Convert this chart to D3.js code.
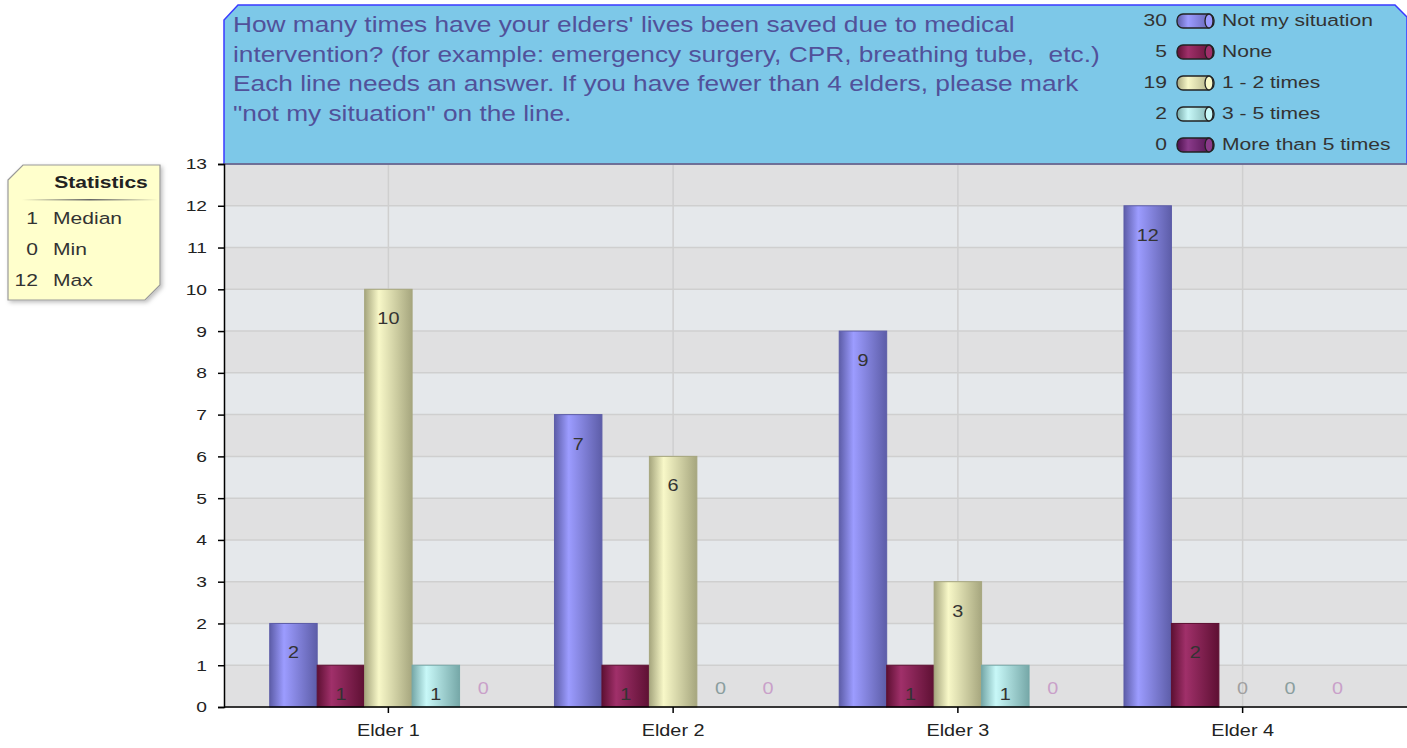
<!DOCTYPE html>
<html>
<head>
<meta charset="utf-8">
<script src="https://cdn.jsdelivr.net/npm/d3@7"></script>
<style>
  body { margin: 0; background: #fff; }
  svg text { font-family: "Liberation Sans", Arial, sans-serif; }
</style>
</head>
<body>
<svg id="chart" width="1407" height="748"></svg>
<script>
// chart data
var categories = ["Elder 1", "Elder 2", "Elder 3", "Elder 4"];
var seriesNames = ["Not my situation", "None", "1 - 2 times", "3 - 5 times", "More than 5 times"];
var seriesTotals = [30, 5, 19, 2, 0];
var notMySituation = [2, 7, 9, 12];
var none = [1, 1, 1, 2];
var oneToTwo = [10, 6, 3, 0];
var threeToFive = [1, 0, 1, 0];
var moreThanFive = [0, 0, 0, 0];
var yTicks = [0, 1, 2, 3, 4, 5, 6, 7, 8, 9, 10, 11, 12, 13];
var statLabels = ["Median", "Min", "Max"];
var statValues = [1, 0, 12];
var titleLines = [
    "How many times have your elders' lives been saved due to medical",
    "intervention? (for example: emergency surgery, CPR, breathing tube,  etc.)",
    "Each line needs an answer. If you have fewer than 4 elders, please mark",
    "\"not my situation\" on the line."
];

var seriesValues = [notMySituation, none, oneToTwo, threeToFive, moreThanFive];

// colours per series: [dark, light, zero-label colour]
var colors = [
    ["#5d5da8", "#9c9cff", "#555"],
    ["#5e1033", "#a0306a", "#555"],
    ["#a6a67e", "#f8f8c8", "#a0a0a0"],
    ["#76a8a8", "#c8f8f8", "#8a9e9e"],
    ["#4a0f4a", "#8a3a8a", "#c9a0c9"]
];

var PLOT_LEFT = 224;
var PLOT_RIGHT = 1407;
var PLOT_TOP = 164;
var PLOT_BOTTOM = 707;
var SX = 1.24; // the text in the original is drawn wide

// put a text at x,y and widen it
function place(sel, x, y) {
    return sel.attr("transform", function(d, i) {
        var px = typeof x == "function" ? x(d, i) : x;
        var py = typeof y == "function" ? y(d, i) : y;
        return "translate(" + px + "," + py + ") scale(" + SX + ",1)";
    });
}

var svg = d3.select("#chart");
var defs = svg.append("defs");

colors.forEach(function(c, i) {
    var g = defs.append("linearGradient").attr("id", "bar" + i)
        .attr("x1", "0%").attr("x2", "100%").attr("y1", "0%").attr("y2", "0%");
    g.append("stop").attr("offset", "0%").attr("stop-color", c[0]);
    g.append("stop").attr("offset", "30%").attr("stop-color", c[1]);
    g.append("stop").attr("offset", "100%").attr("stop-color", c[0]);
});

var sep = defs.append("linearGradient").attr("id", "sep");
sep.append("stop").attr("offset", "0%").attr("stop-color", "#ffffcc");
sep.append("stop").attr("offset", "50%").attr("stop-color", "#666");
sep.append("stop").attr("offset", "100%").attr("stop-color", "#ffffcc");

var shadow = defs.append("filter").attr("id", "shadow")
    .attr("x", "-10%").attr("y", "-10%").attr("width", "130%").attr("height", "130%");
shadow.append("feDropShadow").attr("dx", 2).attr("dy", 2).attr("stdDeviation", 2)
    .attr("flood-color", "#000").attr("flood-opacity", 0.25);

var y = d3.scaleLinear().domain([0, 13]).range([PLOT_BOTTOM, PLOT_TOP]);
var x0 = d3.scaleBand().domain(categories)
    .range([PLOT_LEFT + 22, PLOT_RIGHT - 22]).paddingInner(0).paddingOuter(0);
var x1 = d3.scaleBand().domain(d3.range(seriesNames.length))
    .range([0, x0.bandwidth()]).paddingInner(0).paddingOuter(0.5);

// plot background bands
svg.append("g").selectAll("rect")
    .data(yTicks.slice(0, -1))
    .enter().append("rect")
    .attr("x", PLOT_LEFT)
    .attr("width", PLOT_RIGHT - PLOT_LEFT)
    .attr("y", function(d) { return y(d + 1); })
    .attr("height", function(d) { return y(d) - y(d + 1); })
    .attr("fill", function(d) { return d % 2 == 0 ? "#e0e0e1" : "#e5e8eb"; });

// grid lines
svg.append("g").selectAll("line")
    .data(yTicks)
    .enter().append("line")
    .attr("x1", PLOT_LEFT).attr("x2", PLOT_RIGHT)
    .attr("y1", function(d) { return y(d); })
    .attr("y2", function(d) { return y(d); })
    .attr("stroke", "#cfcfcf").attr("stroke-width", 1.5);

svg.append("g").selectAll("line")
    .data(categories)
    .enter().append("line")
    .attr("x1", function(d) { return x0(d) + x0.bandwidth() / 2; })
    .attr("x2", function(d) { return x0(d) + x0.bandwidth() / 2; })
    .attr("y1", PLOT_TOP).attr("y2", PLOT_BOTTOM)
    .attr("stroke", "#cfcfcf").attr("stroke-width", 1.5);

// title box
var titlePath = d3.path();
titlePath.moveTo(PLOT_LEFT, PLOT_TOP);
titlePath.lineTo(PLOT_LEFT, 20);
titlePath.lineTo(PLOT_LEFT + 14, 5);
titlePath.lineTo(PLOT_RIGHT - 12, 5);
titlePath.lineTo(PLOT_RIGHT, 17);
titlePath.lineTo(PLOT_RIGHT, PLOT_TOP);
titlePath.closePath();
svg.append("path").attr("d", titlePath.toString())
    .attr("fill", "#7dc8e8").attr("stroke", "#3a3aff").attr("stroke-width", 1.5);
svg.append("line").attr("x1", PLOT_LEFT).attr("x2", PLOT_RIGHT)
    .attr("y1", PLOT_TOP).attr("y2", PLOT_TOP)
    .attr("stroke", "#777").attr("stroke-width", 1.5);

place(svg.append("g").selectAll("text")
    .data(titleLines)
    .enter().append("text"), 233, function(d, i) { return 32 + i * 29.5; })
    .attr("font-size", 21.2)
    .attr("fill", "#51519a")
    .style("white-space", "pre")
    .text(function(d) { return d; });

// legend
var legend = svg.append("g").selectAll("g")
    .data(seriesNames)
    .enter().append("g")
    .attr("transform", function(d, i) { return "translate(0," + (20 + i * 31) + ")"; });
place(legend.append("text"), 1167, 6)
    .attr("text-anchor", "end")
    .attr("font-size", 17).attr("fill", "#333")
    .text(function(d, i) { return seriesTotals[i]; });
legend.append("rect")
    .attr("x", 1177).attr("y", -6).attr("width", 37).attr("height", 14).attr("rx", 6)
    .attr("fill", function(d, i) { return "url(#bar" + i + ")"; })
    .attr("stroke", "#222").attr("stroke-width", 1.3);
legend.append("ellipse")
    .attr("cx", 1209).attr("cy", 1).attr("rx", 4).attr("ry", 7)
    .attr("fill", function(d, i) { return colors[i][1]; })
    .attr("stroke", "#222").attr("stroke-width", 1.3);
place(legend.append("text"), 1222, 6)
    .attr("font-size", 17).attr("fill", "#333")
    .text(function(d) { return d; });

// bars
var groups = svg.append("g").selectAll("g")
    .data(categories)
    .enter().append("g")
    .attr("transform", function(d) { return "translate(" + x0(d) + ",0)"; });

groups.selectAll("rect")
    .data(function(d, ci) {
        return seriesValues.map(function(s, si) { return { s: si, v: s[ci] }; });
    })
    .enter().append("rect")
    .filter(function(d) { return d.v > 0; })
    .attr("x", function(d) { return x1(d.s); })
    .attr("width", x1.bandwidth())
    .attr("y", function(d) { return y(d.v); })
    .attr("height", function(d) { return y(0) - y(d.v); })
    .attr("fill", function(d) { return "url(#bar" + d.s + ")"; })
    .attr("stroke", function(d) { return colors[d.s][0]; })
    .attr("stroke-width", 1);

place(groups.selectAll("text")
    .data(function(d, ci) {
        return seriesValues.map(function(s, si) { return { s: si, v: s[ci] }; });
    })
    .enter().append("text"),
    function(d) { return x1(d.s) + x1.bandwidth() / 2; },
    function(d) { return d.v > 0 ? y(d.v) + 35 : y(0) - 13; })
    .attr("text-anchor", "middle")
    .attr("font-size", 16)
    .attr("fill", function(d) { return d.v > 0 ? "#333" : colors[d.s][2]; })
    .text(function(d) { return d.v; });

// axes
var yAxis = svg.append("g")
    .attr("transform", "translate(" + PLOT_LEFT + ",0)")
    .call(d3.axisLeft(y).tickValues(yTicks).tickSize(6).tickPadding(0));
var xAxis = svg.append("g")
    .attr("transform", "translate(0," + PLOT_BOTTOM + ")")
    .call(d3.axisBottom(x0).tickSize(6).tickPadding(12).tickSizeOuter(0));
[yAxis, xAxis].forEach(function(a) {
    a.select(".domain").attr("stroke", "#000").attr("stroke-width", 1.5);
    a.selectAll(".tick line").attr("stroke", "#000").attr("stroke-width", 1.5);
    a.selectAll("text").attr("fill", "#222")
        .attr("font-family", "Liberation Sans, Arial, sans-serif");
});
yAxis.selectAll("text").attr("font-size", 15.5)
    .attr("x", -17 / SX).attr("transform", "scale(" + SX + ",1)");
xAxis.selectAll("text").attr("font-size", 16)
    .attr("transform", "scale(" + SX + ",1)");
xAxis.select(".domain").attr("d", "M" + PLOT_LEFT + ",0H" + PLOT_RIGHT);

// statistics box
var statPath = d3.path();
statPath.moveTo(8, 180);
statPath.lineTo(23, 165);
statPath.lineTo(160, 165);
statPath.lineTo(160, 285);
statPath.lineTo(145, 300);
statPath.lineTo(8, 300);
statPath.closePath();
svg.append("path").attr("d", statPath.toString())
    .attr("fill", "#ffffcc").attr("stroke", "#999").attr("stroke-width", 1.2)
    .attr("filter", "url(#shadow)");
place(svg.append("text"), 101, 188).attr("text-anchor", "middle")
    .attr("font-size", 17).attr("font-weight", "bold").attr("fill", "#222")
    .text("Statistics");
svg.append("rect").attr("x", 22).attr("y", 199).attr("width", 136).attr("height", 1.5)
    .attr("fill", "url(#sep)");
var stats = svg.append("g").selectAll("g")
    .data(statLabels)
    .enter().append("g")
    .attr("transform", function(d, i) { return "translate(0," + (224 + i * 31) + ")"; });
place(stats.append("text"), 38, 0).attr("text-anchor", "end")
    .attr("font-size", 17).attr("fill", "#333")
    .text(function(d, i) { return statValues[i]; });
place(stats.append("text"), 53, 0)
    .attr("font-size", 17).attr("fill", "#333")
    .text(function(d) { return d; });
</script>
</body>
</html>
